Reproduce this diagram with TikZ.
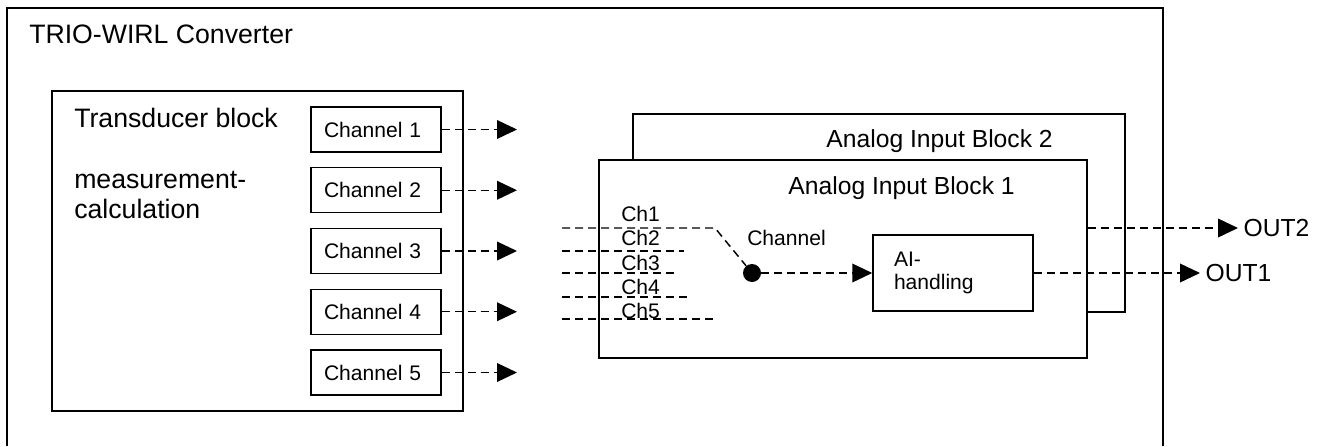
\documentclass[tikz,border=0pt]{standalone}
\usepackage{fontspec}
\setmainfont{Liberation Sans}
\usetikzlibrary{arrows.meta}

\def\bigfont{\fontsize{20}{22.5}\selectfont}
\def\midfont{\fontsize{18.5}{22}\selectfont}
\def\smallfont{\fontsize{15.8}{17}\selectfont}

\tikzset{
  blk/.style={draw,line width=1.1pt,inner sep=0pt},
  dsh/.style={line width=1.1pt,dash pattern=on 6pt off 3.75pt},
  sig/.style={dsh,-{Triangle[length=15pt,width=14pt]}},
  chbox/.style={blk,minimum height=33.75pt,text width=78pt,inner xsep=9.75pt,
    align=left,font=\smallfont},
  lbl/.style={inner sep=0pt}
}

\begin{document}
\begin{tikzpicture}[x=0.75pt,y=-0.75pt]

\useasboundingbox (0,0) rectangle (1326,446);

%====================================================
% Converter frame
%====================================================
\draw[line width=1.1pt] (7,446)--(7,8)--(1163,8)--(1163,446);
\node[lbl,anchor=base west,font=\bigfont] (conv) at (29,43) {TRIO-WIRL Converter};

%====================================================
% Transducer block
%====================================================
\node[blk,minimum width=308.25pt,minimum height=240pt] (trans) at (257.5,251) {};
\node[lbl,anchor=base west,font=\bigfont] (tname) at (74,127) {Transducer block};
\node[lbl,anchor=base west,font=\bigfont] (tmeas) at (74,188) {measurement-};
\node[lbl,anchor=base west,font=\bigfont] (tcalc) at (74,218) {calculation};

% Channels
\node[chbox] (ch1) at (376,129.5) {Channel 1};
\node[chbox] (ch2) at (376,190.25) {Channel 2};
\node[chbox] (ch3) at (376,251) {Channel 3};
\node[chbox] (ch4) at (376,311.75) {Channel 4};
\node[chbox] (ch5) at (376,372.5) {Channel 5};

\coordinate (t1) at (517,129.5);
\coordinate (t2) at (517,190.25);
\coordinate (t3) at (517,251);
\coordinate (t4) at (517,311.75);
\coordinate (t5) at (517,372.5);

\draw[sig] (ch1.east)--(t1);
\draw[sig] (ch2.east)--(t2);
\draw[sig] (ch3.east)--(t3);
\draw[sig] (ch4.east)--(t4);
\draw[sig] (ch5.east)--(t5);

%====================================================
% Analog Input Blocks
%====================================================
\node[blk,minimum width=369pt,minimum height=148.5pt] (blk2) at (879,213) {};
\node[lbl,anchor=base east,font=\midfont] (blk2name) at (1053,147) {Analog Input Block 2};

\node[blk,fill=white,minimum width=366pt,minimum height=148.5pt] (blk1) at (843,259) {};
\node[lbl,anchor=base east,font=\midfont] (blk1name) at (1015,194) {Analog Input Block 1};

% Channel selector
\node[circle,fill,inner sep=0pt,minimum size=13.5pt] (dot) at (752,273) {};
\node[lbl,anchor=west,font=\smallfont] (chsel) at (747,238) {Channel};

\coordinate (l1a) at (562,228);   \coordinate (l1b) at (715,228);
\coordinate (l2a) at (562,251);   \coordinate (l2b) at (684,251);
\coordinate (l3a) at (562,273);   \coordinate (l3b) at (677,273);
\coordinate (l4a) at (562,297);   \coordinate (l4b) at (692,297);
\coordinate (l5a) at (562,319);   \coordinate (l5b) at (715,319);

\draw[dsh] (l1a)--(l1b)--(dot);
\draw[dsh] (l2a)--(l2b);
\draw[dsh] (l3a)--(l3b);
\draw[dsh] (l4a)--(l4b);
\draw[dsh] (l5a)--(l5b);

\node[lbl,anchor=west,font=\smallfont] (c1) at (621,214) {Ch1};
\node[lbl,anchor=west,font=\smallfont] (c2) at (621,238.25) {Ch2};
\node[lbl,anchor=west,font=\smallfont] (c3) at (621,262.5) {Ch3};
\node[lbl,anchor=west,font=\smallfont] (c4) at (621,286.75) {Ch4};
\node[lbl,anchor=west,font=\smallfont] (c5) at (621,311) {Ch5};

% AI handling
\node[blk,minimum width=120pt,minimum height=57pt,text width=88.5pt,inner xsep=15.75pt,
  align=left,font=\smallfont] (ai) at (953,273) {AI-\\handling};
\draw[sig] (dot)--(ai.west);

%====================================================
% Outputs
%====================================================
\coordinate (o2) at (1238,228);
\coordinate (o1) at (1200,273);
\draw[sig] (blk1.east |- o2)--(o2);
\draw[sig] (ai.east)--(o1);
\node[lbl,anchor=west,font=\midfont,xshift=4pt] (out2) at (o2) {OUT2};
\node[lbl,anchor=west,font=\midfont,xshift=4pt] (out1) at (o1) {OUT1};

\end{tikzpicture}
\end{document}
